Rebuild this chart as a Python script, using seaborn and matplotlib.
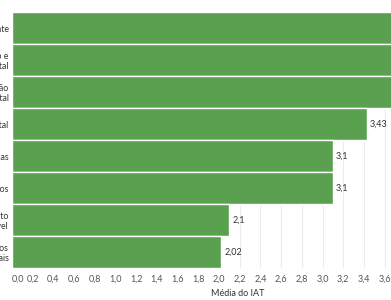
import matplotlib
matplotlib.use("Agg")
import matplotlib.pyplot as plt
import seaborn as sns
import pandas as pd

categories = [
    "Infraestrutura e ambiente",
    "Planejamento e\ngoverno digital",
    "Informação e comunicação\ne gestão digital",
    "Governo digital",
    "Políticas públicas",
    "Serviços públicos",
    "Desenvolvimento\nsustentável",
    "Recursos\nhumanos e materiais",
]
values = [4.0, 3.9, 3.8, 3.43, 3.1, 3.1, 2.1, 2.02]
value_labels = ["4", "3,9", "3,8", "3,43", "3,1", "3,1", "2,1", "2,02"]
tick_values = [round(0.2 * i, 1) for i in range(22)]
tick_labels = [f"{t:.1f}".replace(".", ",") for t in tick_values]

sns.set_theme(style="white")
plt.rcParams["font.family"] = ["Lato", "DejaVu Sans"]

df = pd.DataFrame({"cat": categories, "val": values})

W, H = 391, 300
fig = plt.figure(figsize=(W / 100, H / 100), dpi=100)
x0 = 12
scale = 103.5
xmax = 4.37
ax = fig.add_axes([x0 / W, 32 / H, xmax * scale / W, 256 / H])

ax.set_axisbelow(True)
ax.xaxis.grid(True, color="#ececec", linewidth=0.8)
sns.barplot(data=df, x="val", y="cat", orient="h", color="#59A14F",
            saturation=1, width=0.975, ax=ax)
ax.set_xlim(0, xmax)
ax.set_ylim(7.5, -0.5)

for i, (v, lab) in enumerate(zip(values, value_labels)):
    ax.text(v + 0.03, i, lab, va="center", ha="left", fontsize=6.5, color="#333333")

ax.set_xticks(tick_values)
ax.set_xticklabels(tick_labels, fontsize=6.5, color="#555555")
ax.get_xticklabels()[0].set_horizontalalignment("left")
ax.tick_params(axis="x", length=0, pad=4.5)
ax.tick_params(axis="y", length=0, pad=2.5, labelsize=6.3, labelcolor="#333333")
for t in ax.get_yticklabels():
    t.set_linespacing(1.15)
ax.set_ylabel("")
ax.set_xlabel("")
for s in ax.spines.values():
    s.set_visible(False)

fig.text(238 / W, 1 - 293 / H, "Média do IAT", ha="center", va="center",
         fontsize=6.5, color="#333333")

fig.savefig("out.png", dpi=100)
